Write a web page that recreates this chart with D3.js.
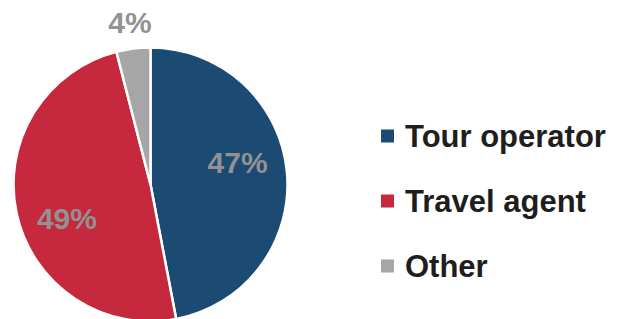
<!DOCTYPE html>
<meta charset="utf-8">
<title>Booking channel share</title>
<style type="text/css">
	body { margin: 0; background: #fff; }
	text { font-family: "Liberation Sans", Arial, sans-serif; font-weight: bold; }
</style>
<body>
<div id="chart"></div>
<script src="https://d3js.org/d3.v7.min.js"></script>
<script>

// data
var channels = ["Tour operator", "Travel agent", "Other"];
var shares = [47, 49, 4];
var colours = ["#1B4A72", "#C6283D", "#A6A6A6"];

var width = 619, height = 319;
var cx = 150.5, cy = 184.5, radius = 137;

var svg = d3.select("#chart").append("svg")
		.attr("width", width)
		.attr("height", height);

var pieData = d3.pie().sort(null)(shares);

var arc = d3.arc().innerRadius(0).outerRadius(radius);

var g = svg.append("g").attr("transform", "translate(" + cx + "," + cy + ")");

// slices with white seams
g.selectAll("path")
	.data(pieData)
	.enter().append("path")
	.attr("d", arc)
	.attr("fill", function(d, i) { return colours[i]; })
	.attr("stroke", "#fff")
	.attr("stroke-width", 2.5)
	.attr("stroke-linejoin", "miter");

// labels: big slices inside (nudged a bit anticlockwise), small one outside
function labelPos(d) {
	var mid = (d.startAngle + d.endAngle) / 2;
	var inside = d.data >= 10;
	var r = inside ? 90 : 164;
	var a = inside ? mid - 0.16 : mid;
	return [Math.sin(a) * r, -Math.cos(a) * r];
}

g.selectAll(".lbl")
	.data(pieData)
	.enter().append("text")
	.attr("class", "lbl")
	.attr("x", function(d) { return labelPos(d)[0]; })
	.attr("y", function(d) { return labelPos(d)[1]; })
	.attr("dy", "0.36em")
	.attr("text-anchor", "middle")
	.style("font-size", "30px")
	.style("fill", "#929292")
	.text(function(d) { return d.data + "%"; });

// legend
var legY = d3.scalePoint().domain(channels).range([136, 266]);

var leg = svg.append("g").attr("transform", "translate(381,0)");

leg.selectAll("rect")
	.data(channels)
	.enter().append("rect")
	.attr("x", 0)
	.attr("y", function(d) { return legY(d) - 6.5; })
	.attr("width", 13)
	.attr("height", 13)
	.attr("fill", function(d, i) { return colours[i]; });

leg.selectAll("text")
	.data(channels)
	.enter().append("text")
	.attr("x", 24)
	.attr("y", function(d) { return legY(d) + 11; })
	.style("font-size", "31px")
	.style("fill", "#1E1E1E")
	.text(function(d) { return d; });

</script>
</body>
